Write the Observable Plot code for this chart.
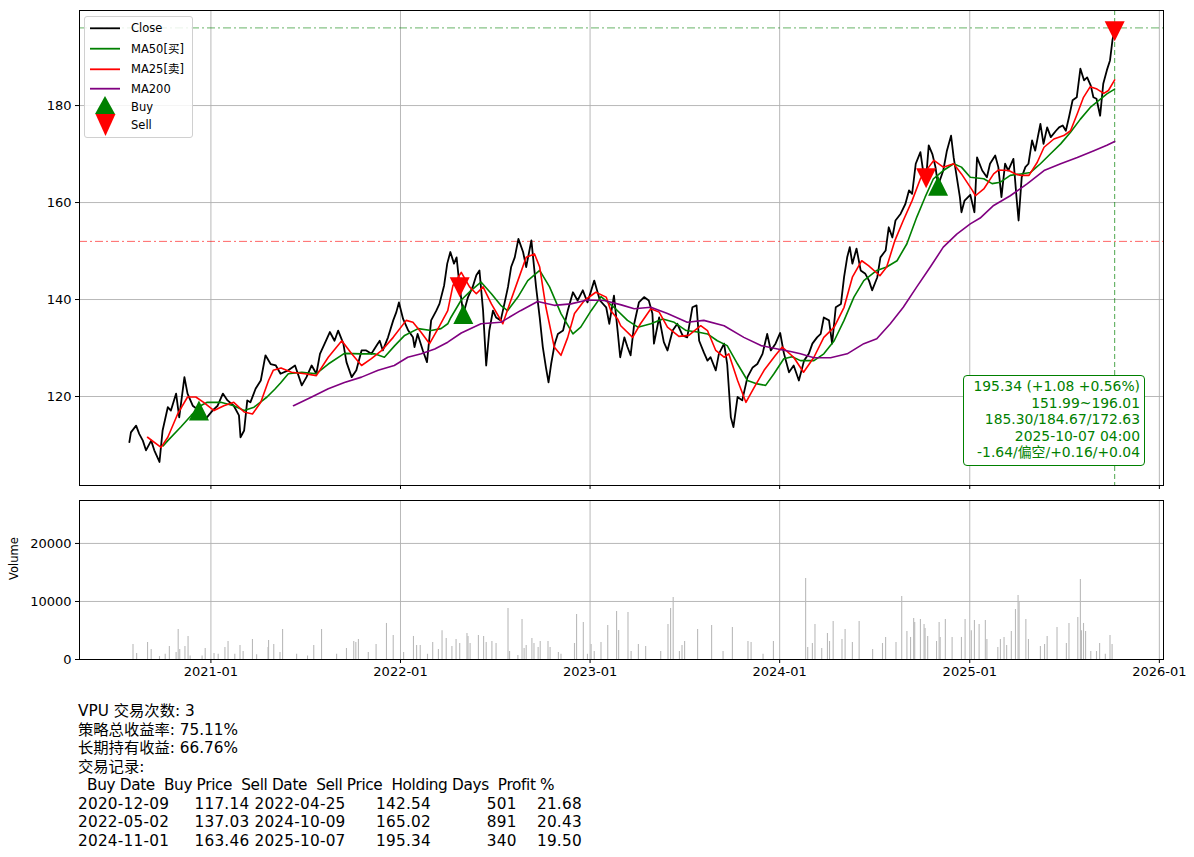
<!DOCTYPE html>
<html><head><meta charset="utf-8">
<script src="https://cdn.jsdelivr.net/npm/d3@7"></script>
<script src="https://cdn.jsdelivr.net/npm/@observablehq/plot@0.6"></script>
<style>
body{margin:0;background:#fff;}
#wrap{position:relative;width:1194px;height:857px;overflow:hidden;font-family:"DejaVu Sans","Noto Sans CJK SC",sans-serif;}
#main{position:absolute;left:0;top:0;}
#vol{position:absolute;left:0;top:495px;}
#legend{position:absolute;left:84px;top:16px;width:109px;height:122px;border:1px solid #d0d0d0;border-radius:3px;background:rgba(255,255,255,0.85);box-sizing:border-box;}
#legend text{font-family:"DejaVu Sans","Noto Sans CJK SC",sans-serif;font-size:11.5px;fill:#000;}
#info{position:absolute;left:963px;top:375px;width:182px;height:91px;box-sizing:border-box;border:1px solid green;border-radius:4px;background:#fff;color:green;font-size:13.9px;line-height:16.6px;text-align:right;padding:2px 4px 0 0;white-space:pre;}
#stats{position:absolute;left:78px;top:702px;font-size:15.3px;line-height:18.5px;white-space:pre;color:#000;}
#stats .hdr{letter-spacing:-0.35px;}
#stats .row{letter-spacing:0.22px;}
</style></head>
<body><div id="wrap"><div id="main"></div><div id="vol"></div><div id="legend"></div><div id="info"></div><div id="stats"></div></div>
<script>
// ---------- data ----------
const closeSeries = [
["2020-07-28",110.6],["2020-07-31",112.6],["2020-08-10",114.0],["2020-08-16",112.3],["2020-08-23",110.9],["2020-08-29",108.9],["2020-09-08",110.9],["2020-09-14",108.9],["2020-09-24",106.5],["2020-09-30",113.0],["2020-10-10",117.8],["2020-10-16",117.1],["2020-10-26",120.6],["2020-11-01",115.7],["2020-11-11",124.0],["2020-11-17",120.6],["2020-11-27",118.1],["2020-12-09",117.1],["2020-12-22",115.4],
["2021-01-04",117.1],["2021-01-14",118.1],["2021-01-24",120.6],["2021-02-02",119.2],["2021-02-14",118.1],["2021-02-24",116.1],["2021-02-27",111.6],["2021-03-06",113.0],["2021-03-12",119.2],["2021-03-18",118.8],["2021-03-28",121.6],["2021-04-07",123.3],["2021-04-16",128.5],["2021-04-26",126.7],["2021-05-06",126.4],["2021-05-15",124.7],["2021-05-30",125.4],["2021-06-12",126.4],["2021-06-25",122.3],["2021-07-04",124.0],["2021-07-14",126.4],["2021-07-23",124.7],["2021-07-30",128.8],["2021-08-08",130.9],["2021-08-18",133.3],["2021-08-27",131.5],["2021-09-03",133.6],["2021-09-13",130.9],["2021-09-19",127.1],["2021-09-29",124.0],["2021-10-08",125.4],["2021-10-18",129.5],["2021-10-27",129.5],["2021-11-06",128.8],["2021-11-16",130.5],["2021-11-22",131.5],["2021-11-28",129.5],["2021-12-08",132.2],["2021-12-18",135.7],["2021-12-24",137.4],["2021-12-29",139.4],
["2022-01-06",136.0],["2022-01-16",133.6],["2022-01-25",132.2],["2022-01-28",130.2],["2022-02-03",132.9],["2022-02-13",129.5],["2022-02-21",127.1],["2022-03-01",135.7],["2022-03-11",137.7],["2022-03-17",139.1],["2022-03-26",142.9],["2022-04-01",147.4],["2022-04-07",149.8],["2022-04-14",147.4],["2022-04-19",148.7],["2022-04-25",142.5],["2022-05-02",137.0],["2022-05-11",140.5],["2022-05-20",142.6],["2022-05-27",145.0],["2022-06-02",146.0],["2022-06-09",137.7],["2022-06-15",126.4],["2022-06-21",133.6],["2022-06-28",137.7],["2022-07-04",136.3],["2022-07-13",135.7],["2022-07-20",139.1],["2022-07-27",142.6],["2022-08-02",146.7],["2022-08-09",148.7],["2022-08-16",152.5],["2022-08-25",149.8],["2022-08-31",146.7],["2022-09-10",152.2],["2022-09-19",142.6],["2022-09-26",136.3],["2022-10-02",130.2],["2022-10-08",126.0],["2022-10-13",122.9],["2022-10-18",126.7],["2022-10-25",130.9],["2022-10-31",132.9],["2022-11-10",133.6],["2022-11-19",137.7],["2022-11-29",141.5],["2022-12-08",139.8],["2022-12-18",141.9],["2022-12-27",139.4],
["2023-01-09",143.9],["2023-01-20",139.8],["2023-02-01",138.4],["2023-02-07",135.0],["2023-02-16",140.8],["2023-02-23",133.6],["2023-02-28",128.1],["2023-03-08",132.2],["2023-03-14",130.2],["2023-03-20",128.5],["2023-03-27",135.0],["2023-04-05",139.4],["2023-04-15",140.5],["2023-04-24",139.8],["2023-05-01",137.1],["2023-05-04",130.9],["2023-05-14",136.3],["2023-05-23",131.2],["2023-05-30",129.5],["2023-06-09",133.6],["2023-06-18",135.0],["2023-06-28",132.6],["2023-07-07",132.2],["2023-07-17",138.4],["2023-07-25",138.8],["2023-07-30",131.5],["2023-08-08",129.1],["2023-08-15",127.4],["2023-08-21",128.1],["2023-08-31",125.4],["2023-09-06",128.8],["2023-09-16",130.9],["2023-09-22",126.7],["2023-09-29",115.7],["2023-10-04",113.7],["2023-10-12",119.9],["2023-10-21",119.2],["2023-10-31",124.0],["2023-11-10",126.0],["2023-11-19",126.7],["2023-11-29",128.8],["2023-12-08",132.9],["2023-12-15",129.5],["2023-12-24",130.9],
["2024-01-02",133.1],["2024-01-09",129.0],["2024-01-19",125.0],["2024-01-28",126.4],["2024-02-07",123.3],["2024-02-17",127.4],["2024-02-26",128.8],["2024-03-04",130.9],["2024-03-13",132.2],["2024-03-20",132.9],["2024-03-26",136.3],["2024-04-05",135.7],["2024-04-11",130.9],["2024-04-18",138.4],["2024-04-28",139.1],["2024-05-04",144.6],["2024-05-10",148.7],["2024-05-15",150.8],["2024-05-20",147.4],["2024-05-28",150.5],["2024-06-05",146.0],["2024-06-14",145.3],["2024-06-21",143.9],["2024-06-27",141.9],["2024-07-07",144.6],["2024-07-13",148.7],["2024-07-23",150.1],["2024-07-29",154.9],["2024-08-05",152.8],["2024-08-11",156.3],["2024-08-21",157.7],["2024-08-30",159.7],["2024-09-06",162.5],["2024-09-12",161.8],["2024-09-19",168.0],["2024-09-28",170.4],["2024-10-04",165.9],["2024-10-09",165.0],["2024-10-14",171.8],["2024-10-21",170.0],["2024-10-27",167.3],["2024-11-01",163.5],["2024-11-11",166.6],["2024-11-18",170.7],["2024-11-26",173.8],["2024-12-01",169.3],["2024-12-06",165.9],["2024-12-13",161.1],["2024-12-16",158.0],["2024-12-22",160.4],
["2025-01-02",161.6],["2025-01-10",158.0],["2025-01-15",169.3],["2025-01-25",166.6],["2025-02-03",165.2],["2025-02-09",168.0],["2025-02-19",169.7],["2025-02-25",167.3],["2025-03-03",161.1],["2025-03-10",168.0],["2025-03-16",166.6],["2025-03-26",169.0],["2025-04-01",161.1],["2025-04-05",156.3],["2025-04-11",165.2],["2025-04-18",167.3],["2025-04-24",168.0],["2025-05-01",172.8],["2025-05-07",170.7],["2025-05-12",173.5],["2025-05-17",176.2],["2025-05-23",172.1],["2025-05-30",175.5],["2025-06-06",173.5],["2025-06-16",174.8],["2025-06-22",175.5],["2025-06-29",175.9],["2025-07-05",174.8],["2025-07-11",177.6],["2025-07-18",181.1],["2025-07-26",181.7],["2025-08-02",187.6],["2025-08-09",185.2],["2025-08-15",185.8],["2025-08-22",184.1],["2025-08-27",181.7],["2025-09-02",181.4],["2025-09-09",177.9],["2025-09-15",184.5],["2025-09-22",187.3],["2025-09-28",189.3],["2025-10-03",193.7],["2025-10-07",195.34]
];
const ma25Series = [
["2020-09-01",111.6],["2020-09-27",109.5],["2020-10-10",111.6],["2020-10-29",116.4],["2020-11-17",119.9],["2020-12-03",119.9],["2020-12-18",118.8],["2021-01-07",117.1],["2021-01-26",118.1],["2021-02-14",118.8],["2021-03-06",116.8],["2021-03-22",116.4],["2021-04-07",118.8],["2021-04-22",123.3],["2021-05-01",125.4],["2021-05-16",125.9],["2021-06-05",125.0],["2021-07-01",124.7],["2021-07-23",124.3],["2021-08-15",128.1],["2021-09-10",131.5],["2021-09-29",128.8],["2021-10-18",126.4],["2021-11-06",127.8],["2021-11-26",129.5],["2021-12-18",132.2],["2022-01-12",135.7],["2022-01-25",135.3],["2022-02-10",133.2],["2022-02-26",130.9],["2022-03-17",134.5],["2022-04-02",137.7],["2022-04-12",142.9],["2022-04-28",145.6],["2022-05-14",142.6],["2022-05-27",141.2],["2022-06-09",142.6],["2022-06-25",139.1],["2022-07-17",135.0],["2022-07-30",139.1],["2022-08-15",143.9],["2022-08-31",148.7],["2022-09-16",149.4],["2022-09-26",146.7],["2022-10-08",138.4],["2022-10-24",130.2],["2022-11-06",128.5],["2022-11-19",132.2],["2022-12-02",137.1],["2022-12-21",139.8],["2023-01-12",141.5],["2023-02-01",140.5],["2023-02-10",137.7],["2023-02-23",136.0],["2023-03-01",134.6],["2023-03-24",132.2],["2023-04-08",135.0],["2023-04-28",138.1],["2023-05-14",137.4],["2023-05-30",134.3],["2023-06-21",132.4],["2023-07-10",132.6],["2023-08-02",134.6],["2023-08-15",133.6],["2023-08-31",129.5],["2023-09-16",128.1],["2023-09-25",128.8],["2023-10-12",123.3],["2023-10-28",118.8],["2023-11-13",121.9],["2023-12-02",125.4],["2023-12-24",128.5],["2024-01-06",130.2],["2024-01-28",128.1],["2024-02-16",125.0],["2024-03-07",128.1],["2024-03-26",132.2],["2024-04-15",134.3],["2024-05-04",138.4],["2024-05-20",144.6],["2024-06-07",148.0],["2024-06-20",147.0],["2024-07-12",144.9],["2024-07-25",146.7],["2024-08-10",152.2],["2024-08-26",156.3],["2024-09-12",160.4],["2024-09-28",164.9],["2024-10-14",167.3],["2024-10-24",168.7],["2024-11-11",167.3],["2024-12-01",168.0],["2024-12-16",165.9],["2025-01-06",162.5],["2025-01-12",161.4],["2025-01-28",162.8],["2025-02-16",165.9],["2025-02-25",166.7],["2025-03-17",166.6],["2025-03-30",165.9],["2025-04-09",165.6],["2025-04-25",165.6],["2025-05-11",168.3],["2025-05-24",171.4],["2025-06-12",173.1],["2025-07-01",173.8],["2025-07-14",174.8],["2025-07-27",178.3],["2025-08-08",181.7],["2025-08-21",183.9],["2025-09-03",183.4],["2025-09-16",182.5],["2025-09-25",183.1],["2025-10-07",185.3]
];
const ma50Series = [
["2020-10-01",109.8],["2020-10-10",110.9],["2020-11-04",113.7],["2020-11-24",116.1],["2020-12-12",118.1],["2020-12-25",118.8],["2021-01-20",118.8],["2021-02-14",118.1],["2021-03-06",117.1],["2021-03-25",117.8],["2021-04-19",119.9],["2021-05-04",121.5],["2021-05-15",122.8],["2021-05-30",124.7],["2021-06-25",125.0],["2021-07-23",124.7],["2021-08-15",126.7],["2021-09-15",128.9],["2021-10-18",128.8],["2021-11-12",128.8],["2021-12-01",128.1],["2021-12-21",130.5],["2022-01-09",132.6],["2022-02-04",134.0],["2022-03-01",133.6],["2022-03-20",134.0],["2022-04-02",135.0],["2022-04-08",136.3],["2022-04-28",139.9],["2022-05-17",141.9],["2022-06-05",143.6],["2022-06-25",141.2],["2022-07-13",138.8],["2022-07-26",137.7],["2022-08-15",140.5],["2022-09-03",143.9],["2022-09-26",146.0],["2022-10-15",142.6],["2022-11-06",137.1],["2022-11-29",132.9],["2022-12-14",134.3],["2023-01-03",137.7],["2023-01-22",140.6],["2023-02-16",138.4],["2023-03-14",135.7],["2023-04-03",134.3],["2023-04-28",135.0],["2023-05-21",136.0],["2023-06-12",135.3],["2023-07-05",133.6],["2023-07-27",133.3],["2023-08-15",132.9],["2023-09-03",131.5],["2023-09-22",130.5],["2023-10-12",126.7],["2023-10-31",123.3],["2023-11-19",122.6],["2023-12-05",122.3],["2023-12-21",124.7],["2024-01-09",127.8],["2024-01-25",128.2],["2024-02-10",127.4],["2024-03-07",127.4],["2024-03-26",128.8],["2024-04-15",131.5],["2024-05-04",135.7],["2024-05-23",140.5],["2024-06-11",143.9],["2024-07-06",146.0],["2024-07-25",146.7],["2024-08-14",148.0],["2024-09-02",151.5],["2024-09-21",157.0],["2024-10-07",161.1],["2024-10-23",164.9],["2024-11-11",166.6],["2024-12-01",168.0],["2024-12-16",167.3],["2025-01-02",165.2],["2025-01-28",164.9],["2025-02-13",163.9],["2025-03-01",164.2],["2025-03-20",165.6],["2025-04-09",165.9],["2025-04-28",166.2],["2025-05-17",168.0],["2025-06-05",170.0],["2025-06-25",172.1],["2025-07-14",174.5],["2025-08-02",177.2],["2025-08-21",179.6],["2025-09-06",181.0],["2025-09-22",182.4],["2025-10-07",183.4]
];
const ma200Series = [
["2021-06-09",118.1],["2021-07-14",119.9],["2021-08-15",121.6],["2021-09-15",122.9],["2021-10-18",124.0],["2021-11-19",125.4],["2021-12-20",126.4],["2022-01-15",128.1],["2022-02-10",128.8],["2022-03-08",129.8],["2022-04-02",131.2],["2022-04-28",133.1],["2022-06-05",135.0],["2022-07-13",135.3],["2022-08-20",137.7],["2022-09-22",139.6],["2022-10-24",138.8],["2022-11-25",139.1],["2022-12-27",139.9],["2023-01-28",139.8],["2023-03-02",138.9],["2023-03-27",138.1],["2023-04-28",138.4],["2023-05-30",137.1],["2023-07-07",135.3],["2023-08-08",135.7],["2023-09-16",134.6],["2023-10-24",132.2],["2023-11-26",130.5],["2023-12-28",129.8],["2024-01-22",129.3],["2024-02-10",128.8],["2024-03-07",128.0],["2024-04-08",128.0],["2024-05-10",128.8],["2024-06-11",130.9],["2024-07-06",131.9],["2024-08-01",135.0],["2024-08-26",138.4],["2024-09-21",142.6],["2024-10-17",146.7],["2024-11-11",150.8],["2024-12-07",153.5],["2025-01-02",155.6],["2025-01-21",156.8],["2025-02-16",159.4],["2025-03-20",161.4],["2025-04-22",163.9],["2025-05-24",166.6],["2025-06-25",168.0],["2025-07-27",169.3],["2025-08-28",170.7],["2025-09-22",171.8],["2025-10-07",172.6]
];
const volumeSeries = [
["2020-08-04",2590],["2020-08-11",1030],["2020-09-01",2930],["2020-09-08",1720],["2020-09-24",500],["2020-10-05",900],["2020-10-13",2240],["2020-10-26",1200],["2020-10-30",5170],["2020-11-02",1720],["2020-11-12",2240],["2020-11-18",3970],["2020-11-22",600],["2020-12-15",600],["2020-12-21",1900],
["2021-01-07",1030],["2021-01-15",900],["2021-01-28",2070],["2021-02-03",3100],["2021-02-16",900],["2021-02-26",2410],["2021-03-04",1380],["2021-03-22",3450],["2021-03-30",800],["2021-04-21",2070],["2021-04-22",3280],["2021-05-02",2590],["2021-05-14",1200],["2021-05-19",5170],["2021-06-15",900],["2021-07-06",600],["2021-07-18",2410],["2021-08-02",5170],["2021-08-31",900],["2021-09-19",1900],["2021-10-03",3100],["2021-10-07",2930],["2021-10-12",3450],["2021-10-31",1200],["2021-11-15",2590],["2021-12-05",6210],["2021-12-18",4140],
["2022-01-07",1200],["2022-01-26",3970],["2022-02-01",2410],["2022-02-08",2410],["2022-02-22",900],["2022-03-04",2930],["2022-03-15",1720],["2022-03-22",4940],["2022-03-30",3620],["2022-04-10",2240],["2022-04-18",3450],["2022-04-25",2760],["2022-05-09",4480],["2022-05-11",3970],["2022-05-15",2760],["2022-05-31",4140],["2022-06-10",3970],["2022-06-15",2930],["2022-06-26",3100],["2022-07-04",2760],["2022-07-27",8790],["2022-07-30",1380],["2022-08-15",700],["2022-08-23",6900],["2022-08-27",1900],["2022-08-31",2410],["2022-09-11",3620],["2022-09-15",2760],["2022-09-23",2070],["2022-09-27",3100],["2022-10-12",3100],["2022-10-16",2070],["2022-11-01",1200],["2022-11-06",900],["2022-12-02",2760],["2022-12-06",7760],["2022-12-19",6380],["2022-12-27",900],
["2023-01-03",2590],["2023-01-09",1380],["2023-01-22",2930],["2023-02-04",5860],["2023-02-21",8280],["2023-02-25",5000],["2023-03-15",8100],["2023-03-21",1380],["2023-04-04",2590],["2023-04-18",2240],["2023-05-17",1380],["2023-05-31",6030],["2023-06-05",8790],["2023-06-10",10690],["2023-06-22",1380],["2023-06-27",2410],["2023-07-02",3100],["2023-07-27",5170],["2023-08-23",5860],["2023-09-14",1380],["2023-10-02",5520],["2023-11-01",3100],["2023-11-07",2930],["2023-11-30",900],["2023-12-20",3100],
["2024-02-20",13970],["2024-02-24",2070],["2024-03-04",2760],["2024-03-09",6030],["2024-03-22",1900],["2024-04-02",4480],["2024-04-06",3100],["2024-04-13",6550],["2024-04-30",3450],["2024-05-06",5170],["2024-05-20",2930],["2024-06-02",6550],["2024-06-28",1720],["2024-07-17",2760],["2024-07-23",3800],["2024-08-12",2930],["2024-08-23",10860],["2024-09-02",4830],["2024-09-09",3800],["2024-09-15",7070],["2024-09-17",6380],["2024-09-28",6900],["2024-10-05",6030],["2024-10-07",5340],["2024-10-12",3970],["2024-10-29",3100],["2024-11-03",6380],["2024-11-05",3800],["2024-11-15",6900],["2024-11-28",3800],["2024-12-16",3800],["2024-12-23",6900],
["2025-01-04",4940],["2025-01-10",6720],["2025-01-19",6030],["2025-01-31",6720],["2025-02-03",3450],["2025-02-24",2070],["2025-03-01",3450],["2025-03-08",3800],["2025-03-13",2410],["2025-03-22",4830],["2025-03-30",8620],["2025-04-04",11030],["2025-04-06",9830],["2025-04-19",6900],["2025-04-24",3450],["2025-05-17",2240],["2025-05-25",2590],["2025-05-30",3970],["2025-06-18",5520],["2025-07-06",2760],["2025-07-11",6210],["2025-07-28",7240],["2025-08-02",13790],["2025-08-04",4940],["2025-08-08",6210],["2025-08-12",4830],["2025-08-22",1380],["2025-09-02",1380],["2025-09-08",2760],["2025-09-19",900],["2025-09-28",4140],["2025-10-02",2590]
];
const buyDates = ["2020-12-09","2022-05-02","2024-11-01"];
const buyPrices = [117.14,137.03,163.46];
const sellDates = ["2022-04-25","2024-10-09","2025-10-07"];
const sellPrices = [142.54,165.02,195.34];
const highLevel = 196.01;
const lowLevel = 151.99;
const lastDate = "2025-10-07";
const yearTickDates = ["2021-01-01","2022-01-01","2023-01-01","2024-01-01","2025-01-01","2026-01-01"];
const priceTicks = [120,140,160,180];
const volumeTicks = [0,10000,20000];
const legendLabels = ["Close","MA50[买]","MA25[卖]","MA200","Buy","Sell"];
const infoLines = ["195.34 (+1.08 +0.56%)","151.99~196.01","185.30/184.67/172.63","2025-10-07 04:00","-1.64/偏空/+0.16/+0.04"];
const statsLines = ["VPU 交易次数: 3","策略总收益率: 75.11%","长期持有收益: 66.76%","交易记录:"];
const tableHeader = "  Buy Date  Buy Price  Sell Date  Sell Price  Holding Days  Profit %";
const tableRows = [
"2020-12-09     117.14 2022-04-25      142.54           501    21.68",
"2022-05-02     137.03 2024-10-09      165.02           891    20.43",
"2024-11-01     163.46 2025-10-07      195.34           340    19.50"];

// ---------- build ----------
const parse = d3.utcParse("%Y-%m-%d");
const toRows = s => s.map(([d, v]) => ({date: parse(d), value: v}));
const close = toRows(closeSeries), ma25 = toRows(ma25Series), ma50 = toRows(ma50Series), ma200 = toRows(ma200Series), vol = toRows(volumeSeries);
const buys = buyDates.map((d, i) => ({date: parse(d), value: buyPrices[i]}));
const sells = sellDates.map((d, i) => ({date: parse(d), value: sellPrices[i]}));
const yearTicks = yearTickDates.map(parse);
const xDomain = [parse("2020-04-23"), parse("2026-01-09")];
const FONT = '"DejaVu Sans","Noto Sans CJK SC",sans-serif';
const GRID = "#b0b0b0";

const triUp = {draw(ctx, size) { const r = Math.sqrt(size / Math.PI); ctx.moveTo(0, -r); ctx.lineTo(r, r); ctx.lineTo(-r, r); ctx.closePath(); }};
const triDown = {draw(ctx, size) { const r = Math.sqrt(size / Math.PI); ctx.moveTo(0, r); ctx.lineTo(r, -r); ctx.lineTo(-r, -r); ctx.closePath(); }};

const main = Plot.plot({
  width: 1194, height: 495, marginLeft: 79, marginRight: 31, marginTop: 10, marginBottom: 10,
  style: {fontFamily: FONT, fontSize: "13px", background: "transparent", color: "#000"},
  x: {type: "utc", domain: xDomain},
  y: {domain: [101.65, 199.6]},
  marks: [
    Plot.gridX(yearTicks, {stroke: GRID, strokeOpacity: 1, strokeWidth: 0.9}),
    Plot.gridY(priceTicks, {stroke: GRID, strokeOpacity: 1, strokeWidth: 0.9}),
    Plot.ruleY([highLevel], {stroke: "green", strokeOpacity: 0.6, strokeWidth: 1, strokeDasharray: "8,3,2,3"}),
    Plot.ruleY([lowLevel], {stroke: "red", strokeOpacity: 0.6, strokeWidth: 1, strokeDasharray: "8,3,2,3"}),
    Plot.ruleX([parse(lastDate)], {stroke: "green", strokeOpacity: 0.7, strokeWidth: 1, strokeDasharray: "5,3"}),
    Plot.line(close, {x: "date", y: "value", stroke: "black", strokeWidth: 1.8}),
    Plot.line(ma50, {x: "date", y: "value", stroke: "green", strokeWidth: 1.6}),
    Plot.line(ma25, {x: "date", y: "value", stroke: "red", strokeWidth: 1.6}),
    Plot.line(ma200, {x: "date", y: "value", stroke: "purple", strokeWidth: 1.6}),
    Plot.dot(buys, {x: "date", y: "value", symbol: triUp, r: 10, fill: "green", stroke: "none"}),
    Plot.dot(sells, {x: "date", y: "value", symbol: triDown, r: 10, fill: "red", stroke: "none"}),
    Plot.axisX({ticks: yearTicks, tickFormat: () => "", tickSize: 4, label: null}),
    Plot.axisY({ticks: priceTicks, tickSize: 4, tickPadding: 4, label: null, fontSize: 13}),
    Plot.frame({stroke: "black", strokeWidth: 1})
  ]
});
document.getElementById("main").appendChild(main);

const volPlot = Plot.plot({
  width: 1194, height: 199, marginLeft: 79, marginRight: 31, marginTop: 5, marginBottom: 35,
  style: {fontFamily: FONT, fontSize: "13px", background: "transparent", color: "#000"},
  x: {type: "utc", domain: xDomain},
  y: {domain: [0, 27400]},
  marks: [
    Plot.gridX(yearTicks, {stroke: GRID, strokeOpacity: 1, strokeWidth: 0.9}),
    Plot.gridY(volumeTicks, {stroke: GRID, strokeOpacity: 1, strokeWidth: 0.9}),
    Plot.ruleX(vol, {x: "date", y1: 0, y2: "value", stroke: "#bababa", strokeWidth: 1.1}),
    Plot.axisX({ticks: yearTicks, tickFormat: d3.utcFormat("%Y-%m"), tickSize: 4, tickPadding: 3, label: null, fontSize: 13}),
    Plot.axisY({ticks: volumeTicks, tickFormat: d => String(d), tickSize: 4, tickPadding: 4, label: null, fontSize: 13}),
    Plot.text(["Volume"], {frameAnchor: "left", dx: -65, rotate: -90, fontSize: 11.5, fill: "black"}),
    Plot.frame({stroke: "black", strokeWidth: 1})
  ]
});
document.getElementById("vol").appendChild(volPlot);

// legend
const legendRows = [11.3, 31.7, 52.3, 71.7, 89.7, 108.3];
const lineColors = ["black", "green", "red", "purple"];
let svg = '<svg width="109" height="122" xmlns="http://www.w3.org/2000/svg">';
lineColors.forEach((c, i) => {
  svg += `<line x1="5" x2="35" y1="${legendRows[i]}" y2="${legendRows[i]}" stroke="${c}" stroke-width="1.8"/>`;
});
svg += '<path d="M20,79 L30,97 L10,97 Z" fill="green"/>';
svg += '<path d="M10.5,97 L30.5,97 L20.5,119 Z" fill="red"/>';
legendLabels.forEach((t, i) => {
  svg += `<text x="46" y="${legendRows[i]}" dy="0.36em">${t}</text>`;
});
svg += '</svg>';
document.getElementById("legend").innerHTML = svg;

document.getElementById("info").textContent = infoLines.join("\n");
const stats = document.getElementById("stats");
statsLines.forEach(t => { const d = document.createElement("div"); d.textContent = t; stats.appendChild(d); });
const h = document.createElement("div"); h.className = "hdr"; h.textContent = tableHeader; stats.appendChild(h);
tableRows.forEach(t => { const d = document.createElement("div"); d.className = "row"; d.textContent = t; stats.appendChild(d); });
</script>
</body></html>
